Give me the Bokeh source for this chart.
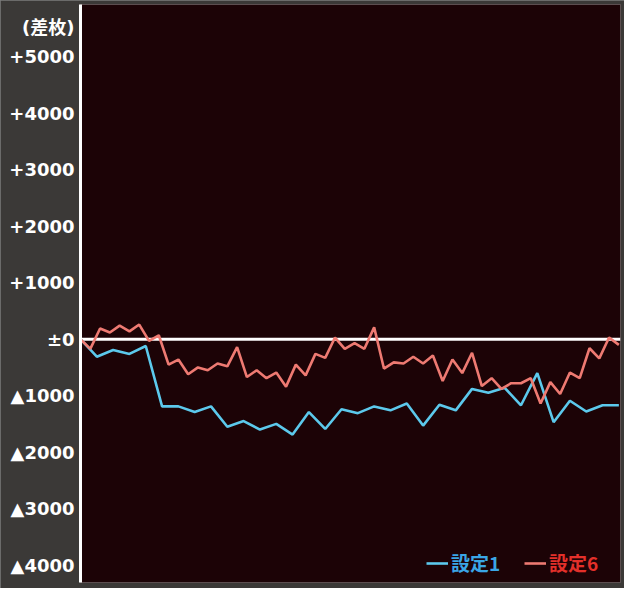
from bokeh.plotting import figure
from bokeh.models import Range1d, Span, Legend, LegendItem, FixedTicker
from bokeh.embed import file_html
from bokeh.resources import INLINE

# ---- data ----
games_total = 3300
step_setting6 = 60   # sampling interval (games) of the 設定6 series
step_setting1 = 100  # sampling interval (games) of the 設定1 series

setting6 = [0, -170, 190, 120, 240, 140, 260, -30, 70, -450,
            -360, -620, -500, -550, -430, -480, -140, -670, -550, -690,
            -590, -840, -450, -640, -260, -330, 30, -170, -70, -170,
            210, -520, -410, -430, -310, -430, -290, -740, -360, -600,
            -240, -830, -690, -880, -780, -780, -690, -1140, -760, -970,
            -590, -690, -160, -340, 30, -100]

setting1 = [0, -310, -190, -260, -120, -1190, -1190, -1290, -1190, -1550,
            -1450, -1600, -1500, -1690, -1290, -1590, -1240, -1310, -1190, -1260,
            -1140, -1530, -1160, -1260, -880, -950, -860, -1170, -600, -1470,
            -1090, -1280, -1170, -1170]

y_ticks = [-4000, -3000, -2000, -1000, 0, 1000, 2000, 3000, 4000, 5000, 5520]
y_tick_labels = ["▲4000", "▲3000", "▲2000", "▲1000", "±0",
                 "+1000", "+2000", "+3000", "+4000", "+5000", "(差枚)"]

series_names = ["設定1", "設定6"]
series_colors = ["#5cc9ec", "#ee7a72"]
legend_text_colors = ["#3aa6e6", "#e3302a"]

x6 = [i * step_setting6 for i in range(len(setting6))]
x1 = [i * step_setting1 for i in range(len(setting1))]

# ---- figure ----
p = figure(width=624, height=588, output_backend="svg", toolbar_location=None,
           x_range=Range1d(0, games_total + 10), y_range=Range1d(-4310, 5930),
           min_border_left=80, min_border_right=4, min_border_top=4,
           min_border_bottom=6)
p.border_fill_color = "#3b3937"
p.background_fill_color = "#1c0306"
p.outline_line_color = None
p.styles = {"outline": "3px solid #7d7d7d", "outline-offset": "-3px"}

p.xaxis.visible = False
p.xgrid.visible = False
p.ygrid.visible = False

ax = p.yaxis[0]
ax.ticker = FixedTicker(ticks=y_ticks)
ax.major_label_overrides = {t: s for t, s in zip(y_ticks, y_tick_labels)}
ax.axis_line_color = "white"
ax.axis_line_width = 3
ax.major_tick_line_color = None
ax.minor_tick_line_color = None
ax.major_tick_out = 0
ax.major_tick_in = 0
ax.major_label_standoff = 6
ax.major_label_text_color = "white"
ax.major_label_text_font = "DejaVu Sans, Noto Sans CJK JP"
ax.major_label_text_font_style = "bold"
ax.major_label_text_font_size = "18px"

zero = Span(location=0, dimension="width", line_color="white",
            line_width=3, level="underlay")
p.add_layout(zero)

r1 = p.line(x1, setting1, line_color=series_colors[0], line_width=2.6)
r6 = p.line(x6, setting6, line_color=series_colors[1], line_width=2.6)

for r, name, tc, loc in [(r1, series_names[0], legend_text_colors[0], (346, 6)),
                         (r6, series_names[1], legend_text_colors[1], (444, 6))]:
    lg = Legend(items=[LegendItem(label=name, renderers=[r])], location=loc,
                background_fill_alpha=0, border_line_color=None,
                padding=0, margin=0, spacing=0, glyph_width=22, glyph_height=20,
                label_standoff=3, label_text_color=tc,
                label_text_font="Noto Sans CJK JP", label_text_font_style="bold",
                label_text_font_size="19px")
    p.add_layout(lg)

open("out.html", "w").write(file_html(p, INLINE))
